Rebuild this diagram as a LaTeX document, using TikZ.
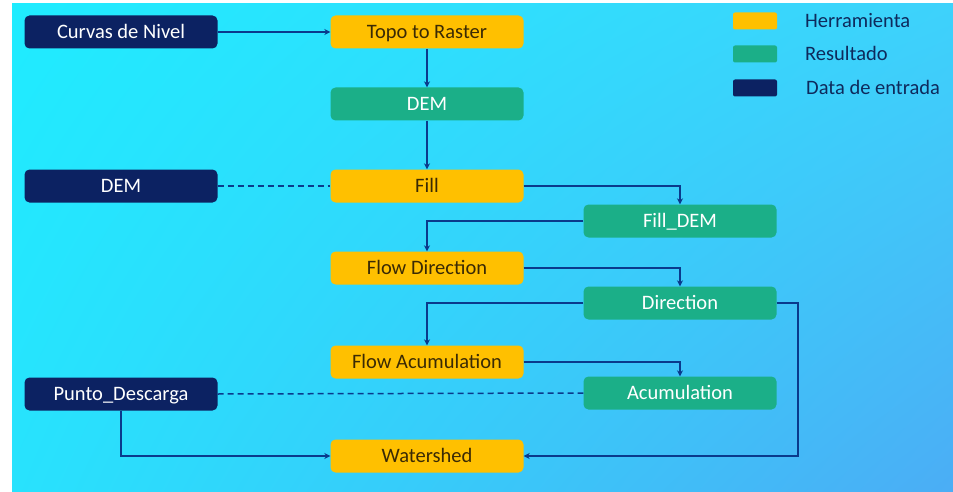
\documentclass[tikz,border=0pt]{standalone}
\usepackage{fontspec}
\setmainfont{Carlito}
\usetikzlibrary{arrows.meta,shadings}
\definecolor{tool}{HTML}{FFC000}
\definecolor{res}{HTML}{1BAF88}
\definecolor{inp}{HTML}{0C2262}
\definecolor{lnk}{HTML}{0A3A8C}
\definecolor{toolTxt}{HTML}{3A2A05}
\definecolor{legTxt}{HTML}{0E2A5C}
\definecolor{bgA}{HTML}{1FECFF}
\definecolor{bgB}{HTML}{3ED2FB}
\definecolor{bgC}{HTML}{28E2FD}
\definecolor{bgD}{HTML}{4BADF5}
\begin{document}
\begin{tikzpicture}[x=1pt,y=-1pt,
  box/.style={rounded corners=5pt, minimum width=193pt, minimum height=33pt, inner sep=0pt,
              text height=13.2pt, text depth=0pt,
              font=\fontsize{20.5}{24}\selectfont},
  toolbox/.style={box, fill=tool, text=toolTxt},
  resbox/.style={box, fill=res, text=white},
  inbox/.style={box, fill=inp, text=white},
  link/.style={draw=lnk, line width=1.5pt, -{Stealth[length=6pt,width=6pt]}},
  dlink/.style={draw=lnk, line width=1.5pt, dash pattern=on 6pt off 4pt},
  swatch/.style={rounded corners=2pt, minimum width=44pt, minimum height=17pt, inner sep=0pt},
  legtext/.style={anchor=west, text=legTxt, inner sep=0pt, text height=13.2pt, text depth=0pt,
                  font=\fontsize{20.5}{24}\selectfont}
]
\useasboundingbox (0,0) rectangle (953,492);
\shade[upper left=bgA, upper right=bgB, lower left=bgC, lower right=bgD] (12,4) rectangle (953,492);

% nodes
\node[inbox] (curvas) at (121,32) {Curvas de Nivel};
\node[toolbox] (topo) at (427,32) {Topo to Raster};
\node[resbox] (dem) at (427,104) {DEM};
\node[inbox] (demin) at (121,186) {DEM};
\node[toolbox] (fill) at (427,186) {Fill};
\node[resbox] (filldem) at (680,221) {Fill\_DEM};
\node[toolbox] (flowdir) at (427,268) {Flow Direction};
\node[resbox] (dir) at (680,303) {Direction};
\node[toolbox] (flowacc) at (427,362) {Flow Acumulation};
\node[resbox] (acc) at (680,393) {Acumulation};
\node[inbox] (punto) at (121,394) {Punto\_Descarga};
\node[toolbox] (water) at (427,456) {Watershed};

% legend
\node[swatch, fill=tool] (lg1) at (755,21) {};
\node[swatch, fill=res] (lg2) at (755,54) {};
\node[swatch, fill=inp] (lg3) at (755,88) {};
\node[legtext] (lt1) at (805,21) {Herramienta};
\node[legtext] (lt2) at (805,54) {Resultado};
\node[legtext] (lt3) at (806,88) {Data de entrada};

% connectors
\coordinate (rt) at (798,0);
\draw[link] (curvas.east) -- (topo.west);
\draw[link] (topo.south) -- (dem.north);
\draw[link] (dem.south) -- (fill.north);
\draw[dlink] (demin.east) -- (fill.west);
\draw[link] (fill.east) -| (filldem.north);
\draw[link] (filldem.west) -| (flowdir.north);
\draw[link] (flowdir.east) -| (dir.north);
\draw[link] (dir.west) -| (flowacc.north);
\draw[link] (flowacc.east) -| (acc.north);
\draw[dlink] (punto.east) -- (acc.west);
\draw[link] (dir.east) -- (dir.east -| rt) |- (water.east);
\draw[link] (punto.south) |- (water.west);
\end{tikzpicture}
\end{document}
